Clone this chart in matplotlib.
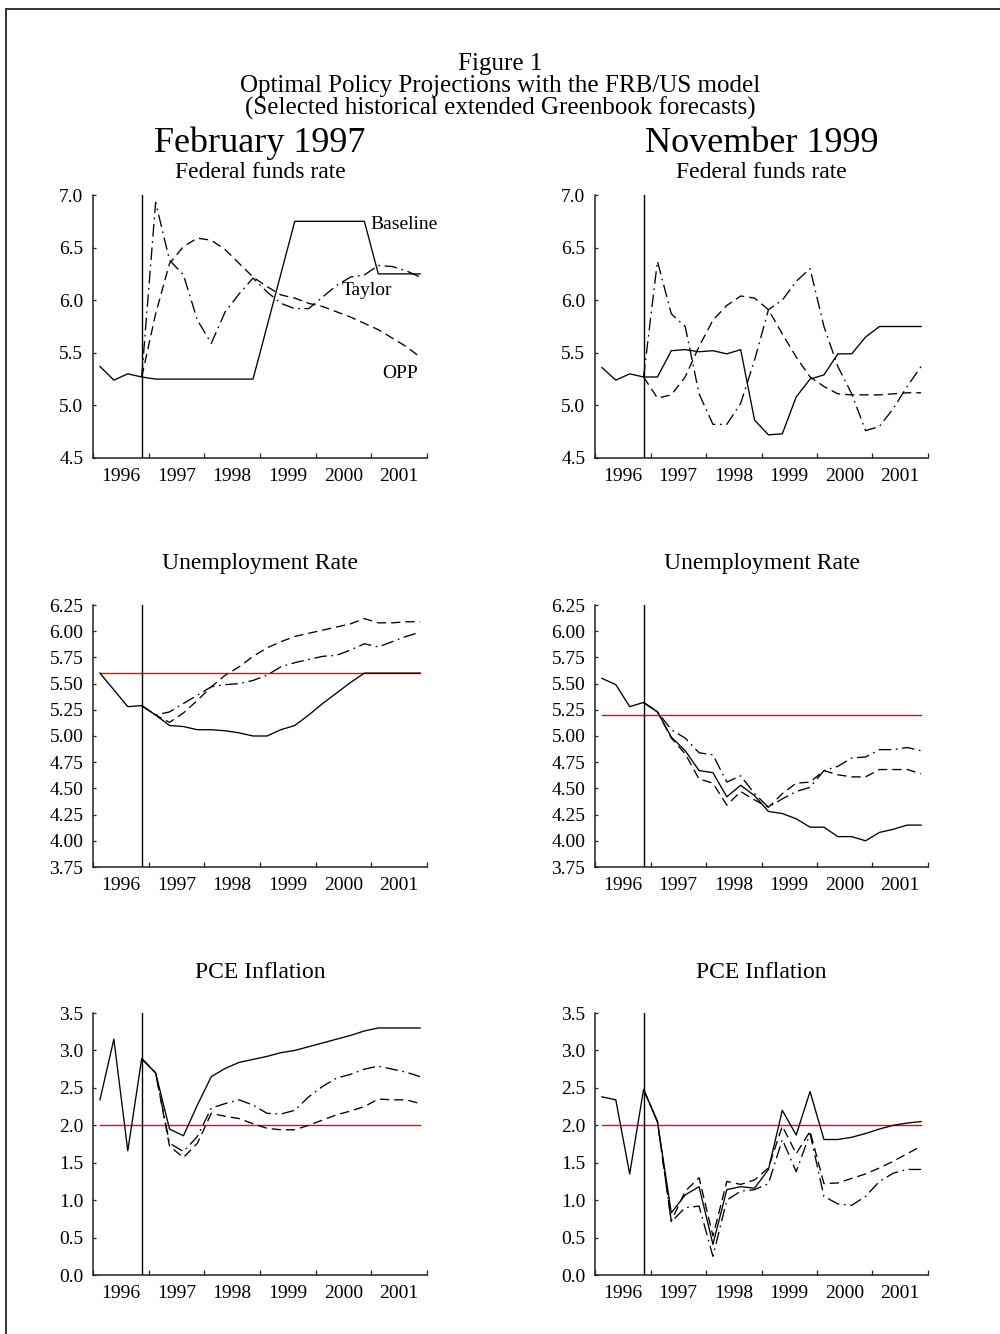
import numpy as np
import matplotlib
matplotlib.use("Agg")
import matplotlib.pyplot as plt
from matplotlib.lines import Line2D

plt.rcParams['font.family'] = ['Liberation Serif', 'DejaVu Serif']

# ---------------- data ----------------
years = ['1996', '1997', '1998', '1999', '2000', '2001']
n_quarters = 24
forecast_quarter = 3          # 1996Q4 (vertical line)
nan = np.nan

# Federal funds rate, February 1997
ffr_feb97_baseline = [5.37, 5.24, 5.30, 5.27, 5.25, 5.25, 5.25, 5.25, 5.25, 5.25, 5.25, 5.25,
                      5.75, 6.25, 6.75, 6.75, 6.75, 6.75, 6.75, 6.75, 6.25, 6.25, 6.25, 6.25]
ffr_feb97_taylor = [nan, nan, nan, 5.27, 6.93, 6.38, 6.24, 5.81, 5.59, 5.89, 6.06, 6.21,
                    6.08, 5.97, 5.92, 5.92, 6.03, 6.14, 6.22, 6.24, 6.33, 6.32, 6.28, 6.22]
ffr_feb97_opp = [nan, nan, nan, 5.27, 5.87, 6.35, 6.51, 6.59, 6.57, 6.48, 6.35, 6.22,
                 6.13, 6.05, 6.02, 5.97, 5.94, 5.89, 5.84, 5.78, 5.72, 5.64, 5.56, 5.46]

# Federal funds rate, November 1999
ffr_nov99_baseline = [5.36, 5.24, 5.30, 5.27, 5.27, 5.52, 5.53, 5.51, 5.52, 5.49, 5.53, 4.86,
                      4.72, 4.73, 5.08, 5.25, 5.29, 5.49, 5.49, 5.65, 5.75, 5.75, 5.75, 5.75]
ffr_nov99_taylor = [nan, nan, nan, 5.27, 6.37, 5.87, 5.75, 5.11, 4.82, 4.82, 5.02, 5.43,
                    5.91, 6.00, 6.18, 6.30, 5.75, 5.37, 5.11, 4.76, 4.80, 4.97, 5.18, 5.37]
ffr_nov99_opp = [nan, nan, nan, 5.27, 5.07, 5.10, 5.27, 5.56, 5.81, 5.95, 6.04, 6.02,
                 5.91, 5.68, 5.46, 5.27, 5.18, 5.11, 5.10, 5.10, 5.10, 5.11, 5.12, 5.12]

# Unemployment rate, February 1997
ur_feb97_baseline = [5.60, 5.44, 5.28, 5.29, 5.20, 5.10, 5.09, 5.06, 5.06, 5.05, 5.03, 5.00,
                     5.00, 5.06, 5.10, 5.20, 5.31, 5.41, 5.51, 5.60, 5.60, 5.60, 5.60, 5.60]
ur_feb97_taylor = [nan, nan, nan, 5.29, 5.20, 5.23, 5.31, 5.39, 5.47, 5.49, 5.50, 5.53,
                   5.58, 5.66, 5.70, 5.73, 5.76, 5.77, 5.82, 5.88, 5.85, 5.90, 5.95, 5.99]
ur_feb97_opp = [nan, nan, nan, 5.29, 5.20, 5.13, 5.22, 5.34, 5.47, 5.58, 5.66, 5.76,
                5.84, 5.90, 5.95, 5.98, 6.01, 6.04, 6.07, 6.12, 6.08, 6.08, 6.09, 6.09]
ur_feb97_nairu = 5.6

# Unemployment rate, November 1999
ur_nov99_baseline = [5.55, 5.49, 5.28, 5.32, 5.23, 4.99, 4.86, 4.67, 4.65, 4.42, 4.53, 4.43,
                     4.28, 4.26, 4.21, 4.13, 4.13, 4.04, 4.04, 4.00, 4.08, 4.11, 4.15, 4.15]
ur_nov99_taylor = [nan, nan, nan, 5.32, 5.23, 5.06, 4.98, 4.84, 4.82, 4.56, 4.62, 4.45,
                   4.32, 4.40, 4.47, 4.51, 4.67, 4.71, 4.79, 4.80, 4.87, 4.87, 4.89, 4.86]
ur_nov99_opp = [nan, nan, nan, 5.32, 5.23, 4.98, 4.83, 4.59, 4.55, 4.34, 4.47, 4.39,
                4.32, 4.45, 4.55, 4.56, 4.67, 4.63, 4.61, 4.61, 4.68, 4.68, 4.68, 4.64]
ur_nov99_nairu = 5.2

# PCE inflation, February 1997
pce_feb97_baseline = [2.34, 3.15, 1.66, 2.89, 2.70, 1.95, 1.86, 2.27, 2.65, 2.76, 2.84, 2.88,
                      2.92, 2.97, 3.00, 3.05, 3.10, 3.15, 3.20, 3.26, 3.30, 3.30, 3.30, 3.30]
pce_feb97_taylor = [nan, nan, nan, 2.89, 2.70, 1.76, 1.65, 1.85, 2.23, 2.29, 2.34, 2.27,
                    2.16, 2.15, 2.20, 2.38, 2.52, 2.63, 2.68, 2.75, 2.79, 2.75, 2.71, 2.65]
pce_feb97_opp = [nan, nan, nan, 2.89, 2.70, 1.72, 1.57, 1.76, 2.16, 2.12, 2.09, 2.02,
                 1.96, 1.94, 1.94, 2.00, 2.07, 2.14, 2.19, 2.25, 2.35, 2.34, 2.34, 2.29]

# PCE inflation, November 1999
pce_nov99_baseline = [2.38, 2.34, 1.35, 2.48, 2.05, 0.83, 1.07, 1.18, 0.41, 1.14, 1.18, 1.16,
                      1.41, 2.20, 1.87, 2.45, 1.81, 1.81, 1.84, 1.89, 1.95, 2.00, 2.03, 2.05]
pce_nov99_taylor = [nan, nan, nan, 2.48, 2.05, 0.71, 0.90, 0.92, 0.25, 1.00, 1.12, 1.14,
                    1.22, 1.81, 1.38, 1.89, 1.05, 0.95, 0.93, 1.05, 1.25, 1.36, 1.41, 1.41]
pce_nov99_opp = [nan, nan, nan, 2.48, 2.05, 0.72, 1.12, 1.30, 0.52, 1.25, 1.21, 1.27,
                 1.43, 1.99, 1.62, 1.92, 1.22, 1.23, 1.29, 1.35, 1.43, 1.52, 1.62, 1.72]
pce_target = 2.0

# ---------------- figure ----------------
W, H = 1000, 1334
fig = plt.figure(figsize=(W / 100, H / 100), dpi=100)

def px_axes(left, top, right, bottom):
    return fig.add_axes([left / W, 1 - bottom / H, (right - left) / W, (bottom - top) / H])

x = np.arange(n_quarters)
LW = 0.95
DASH = (0, (7, 3.8))
DASHDOT = (0, (9.5, 3.5, 1.3, 3.5))
TICK_FS = 14


def style_axes(ax, ylim, yticks, fmt):
    ax.set_xlim(-0.5, n_quarters - 0.5)
    ax.set_ylim(*ylim)
    for s in ('top', 'right'):
        ax.spines[s].set_visible(False)
    for s in ('left', 'bottom'):
        ax.spines[s].set_linewidth(1.1)
        ax.spines[s].set_color('#222222')
    ax.set_xticks(np.arange(-0.5, n_quarters, 4))
    ax.set_xticklabels([])
    ax.set_xticks(np.arange(1.5, n_quarters, 4), minor=True)
    ax.set_xticklabels(years, minor=True)
    ax.tick_params(axis='x', which='major', direction='in', length=3.5, width=0.9, color='#222222')
    ax.tick_params(axis='x', which='minor', length=0, pad=7, labelsize=TICK_FS)
    ax.set_yticks(yticks)
    ax.set_yticklabels([fmt % v for v in yticks])
    ax.tick_params(axis='y', direction='in', length=2.5, width=0.9, pad=7, labelsize=TICK_FS,
                   color='#222222')
    ax.axvline(forecast_quarter, color='black', lw=1.0)


def draw(ax, base, taylor, opp, target=None):
    if target is not None:
        ax.plot([x[0], x[-1]], [target, target], color='red', lw=1.0)
    ax.plot(x, opp, color='black', lw=LW, linestyle=DASH)
    ax.plot(x, taylor, color='black', lw=LW, linestyle=DASHDOT)
    ax.plot(x, base, color='black', lw=LW)


cols = [(93, 427), (595, 928)]
rows = [(195, 458), (605, 867), (1013, 1275)]

ffr_ticks = [4.5, 5.0, 5.5, 6.0, 6.5, 7.0]
ur_ticks = [3.75, 4.00, 4.25, 4.50, 4.75, 5.00, 5.25, 5.50, 5.75, 6.00, 6.25]
pce_ticks = [0.0, 0.5, 1.0, 1.5, 2.0, 2.5, 3.0, 3.5]

panels = [
    (0, 0, (ffr_feb97_baseline, ffr_feb97_taylor, ffr_feb97_opp, None), (4.5, 7.0), ffr_ticks, '%.1f'),
    (0, 1, (ffr_nov99_baseline, ffr_nov99_taylor, ffr_nov99_opp, None), (4.5, 7.0), ffr_ticks, '%.1f'),
    (1, 0, (ur_feb97_baseline, ur_feb97_taylor, ur_feb97_opp, ur_feb97_nairu), (3.75, 6.25), ur_ticks, '%.2f'),
    (1, 1, (ur_nov99_baseline, ur_nov99_taylor, ur_nov99_opp, ur_nov99_nairu), (3.75, 6.25), ur_ticks, '%.2f'),
    (2, 0, (pce_feb97_baseline, pce_feb97_taylor, pce_feb97_opp, pce_target), (0.0, 3.5), pce_ticks, '%.1f'),
    (2, 1, (pce_nov99_baseline, pce_nov99_taylor, pce_nov99_opp, pce_target), (0.0, 3.5), pce_ticks, '%.1f'),
]

axes = {}
for r, c, (b, t, o, tgt), ylim, ticks, fmt in panels:
    top, bottom = rows[r]
    left, right = cols[c]
    ax = px_axes(left, top, right, bottom)
    draw(ax, b, t, o, tgt)
    style_axes(ax, ylim, ticks, fmt)
    axes[(r, c)] = ax

# series labels in first panel
ax0 = axes[(0, 0)]
ax0.text(19.4, 6.72, 'Baseline', fontsize=TICK_FS, ha='left', va='center')
ax0.text(17.4, 6.09, 'Taylor', fontsize=TICK_FS, ha='left', va='center')
ax0.text(20.3, 5.30, 'OPP', fontsize=TICK_FS, ha='left', va='center')

# ---------------- titles ----------------
title_lines = ['Figure 1',
               'Optimal Policy Projections with the FRB/US model',
               '(Selected historical extended Greenbook forecasts)']
for i, line in enumerate(title_lines):
    fig.text(0.5, 1 - (64 + 22 * i) / H, line, ha='center', va='center', fontsize=18)

for c, name in enumerate(['February 1997', 'November 1999']):
    cx = (cols[c][0] + cols[c][1]) / 2 / W
    fig.text(cx, 1 - 143 / H, name, ha='center', va='center', fontsize=26)

panel_titles = ['Federal funds rate', 'Unemployment Rate', 'PCE Inflation']
panel_title_y = [173, 563, 972]
for c in range(2):
    cx = (cols[c][0] + cols[c][1]) / 2 / W
    for t, yy in zip(panel_titles, panel_title_y):
        fig.text(cx, 1 - yy / H, t, ha='center', va='center', fontsize=17)

# outer frame (top and left rule)
fig.add_artist(Line2D([6 / W, 1.0], [1 - 9 / H, 1 - 9 / H], color='#333333', lw=1.4,
                      transform=fig.transFigure))
fig.add_artist(Line2D([6 / W, 6 / W], [0.0, 1 - 9 / H], color='#333333', lw=1.4,
                      transform=fig.transFigure))

fig.savefig('out.png', dpi=100, facecolor='white')
